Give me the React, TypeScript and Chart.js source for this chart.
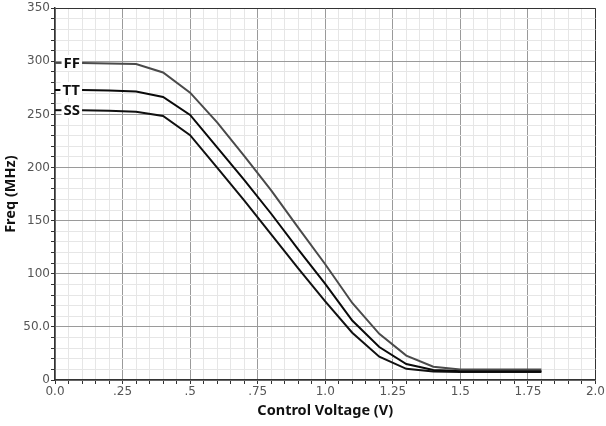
import React, { useEffect, useRef } from "react";
import { Chart, registerables } from "chart.js";

Chart.register(...registerables);

const voltages = [0.1, 0.2, 0.3, 0.4, 0.5, 0.6, 0.7, 0.8, 0.9, 1.0, 1.1, 1.2, 1.3, 1.4, 1.5, 1.6, 1.7, 1.8];
const ffFreq = [298.5, 298, 297.5, 289.5, 270.5, 242.5, 211, 178.5, 143.5, 109, 72.5, 43.5, 23, 12.5, 10, 10, 10, 10];
const ttFreq = [273, 272.5, 271.5, 266.5, 249.5, 219, 188.5, 156.5, 123, 90.5, 56, 31, 15, 9.5, 8.5, 8.5, 8.5, 8.5];
const ssFreq = [254, 253.5, 252.5, 248.5, 230.5, 200, 169, 137, 105, 74, 44.5, 22, 10.5, 8, 7.5, 7.5, 7.5, 7.5];
const seriesNames = ["FF", "TT", "SS"];
const seriesColors = ["#4a4a4a", "#0a0a0a", "#111111"];

const xMajorLabels: Record<string, string> = {
  "0": "0.0", "5": ".25", "10": ".5", "15": ".75", "20": "1.0",
  "25": "1.25", "30": "1.5", "35": "1.75", "40": "2.0",
};
const yMajorLabels: Record<string, string> = {
  "0": "0", "50": "50.0", "100": "100", "150": "150", "200": "200",
  "250": "250", "300": "300", "350": "350",
};

const curveLabelPlugin = {
  id: "curveLabels",
  afterDatasetsDraw(chart: any) {
    const ctx = chart.ctx;
    const left = chart.scales.x.left;
    chart.data.datasets.forEach((ds: any, i: number) => {
      const meta = chart.getDatasetMeta(i);
      const p = meta.data[0];
      if (!p) return;
      ctx.save();
      ctx.strokeStyle = ds.borderColor;
      ctx.lineWidth = 2;
      ctx.beginPath();
      ctx.moveTo(left, p.y);
      ctx.lineTo(p.x, p.y);
      ctx.stroke();
      ctx.font = "bold 15px 'Noto Sans', 'DejaVu Sans', sans-serif";
      const label = seriesNames[i];
      const w = ctx.measureText(label).width;
      const right = p.x - 2;
      ctx.fillStyle = "#ffffff";
      ctx.fillRect(right - w - 2, p.y - 8, w + 4, 16);
      ctx.fillStyle = "#111111";
      ctx.textAlign = "right";
      ctx.textBaseline = "middle";
      ctx.fillText(label, right, p.y + 0.5);
      ctx.restore();
    });
  },
};

export default function App() {
  const ref = useRef<HTMLCanvasElement | null>(null);
  useEffect(() => {
    if (!ref.current) return;
    const mk = (vals: number[]) => voltages.map((v, i) => ({ x: v, y: vals[i] }));
    const chart = new Chart(ref.current, {
      type: "line",
      data: {
        datasets: [ffFreq, ttFreq, ssFreq].map((vals, i) => ({
          label: seriesNames[i],
          data: mk(vals),
          borderColor: seriesColors[i],
          borderWidth: 2,
          pointRadius: 0,
          tension: 0,
          fill: false,
        })),
      },
      options: {
        responsive: false,
        animation: false,
        devicePixelRatio: 1,
        layout: { padding: { top: 8, right: 10, left: 0, bottom: 0 } },
        plugins: { legend: { display: false }, tooltip: { enabled: false } },
        scales: {
          x: {
            type: "linear",
            min: 0,
            max: 2,
            afterBuildTicks: (scale: any) => {
              const t = [];
              for (let k = 0; k <= 40; k++) t.push({ value: k * 0.05 });
              scale.ticks = t;
            },
            afterFit: (scale: any) => { scale.height = 46; },
            ticks: {
              autoSkip: false,
              maxRotation: 0,
              padding: 1,
              color: "#555555",
              font: { family: "'DejaVu Sans', sans-serif", size: 12 },
              callback: (v: any) => xMajorLabels[String(Math.round(Number(v) / 0.05))] ?? "",
            },
            grid: {
              color: (c: any) => {
                const k = Math.round(c.tick.value / 0.05);
                if (k === 40) return "#333333";
                return k % 5 === 0 ? "#9a9a9a" : "#e6e6e6";
              },
              tickColor: "#333333",
              tickLength: 4,
              lineWidth: 1,
            },
            border: { color: "#333333", width: 1.5 },
            title: {
              display: true,
              text: "Control Voltage (V)",
              color: "#111111",
              font: { family: "'Noto Sans', sans-serif", size: 14.5, weight: "bold" },
              padding: { top: 2, bottom: 6 },
            },
          },
          y: {
            type: "linear",
            min: 0,
            max: 350,
            afterBuildTicks: (scale: any) => {
              const t = [];
              for (let k = 0; k <= 35; k++) t.push({ value: k * 10 });
              scale.ticks = t;
            },
            afterFit: (scale: any) => { scale.width = 55; },
            ticks: {
              autoSkip: false,
              padding: 1,
              color: "#555555",
              font: { family: "'DejaVu Sans', sans-serif", size: 12 },
              callback: (v: any) => yMajorLabels[String(Math.round(Number(v)))] ?? "",
            },
            grid: {
              color: (c: any) => {
                const v = Math.round(c.tick.value);
                if (v === 350) return "#333333";
                return v % 50 === 0 ? "#9a9a9a" : "#e6e6e6";
              },
              tickColor: "#333333",
              tickLength: 4,
              lineWidth: 1,
            },
            border: { color: "#333333", width: 1.5 },
            title: {
              display: true,
              text: "Freq (MHz)",
              color: "#111111",
              font: { family: "'Noto Sans', sans-serif", size: 14.5, weight: "bold" },
              padding: { top: 2, bottom: 2 },
            },
          },
        },
      },
      plugins: [curveLabelPlugin],
    } as any);
    return () => chart.destroy();
  }, []);
  return (
    <div style={{ position: "fixed", left: 0, top: 0, width: 606, height: 426, background: "#ffffff" }}>
      <canvas ref={ref} width={606} height={426} style={{ display: "block" }} />
    </div>
  );
}
